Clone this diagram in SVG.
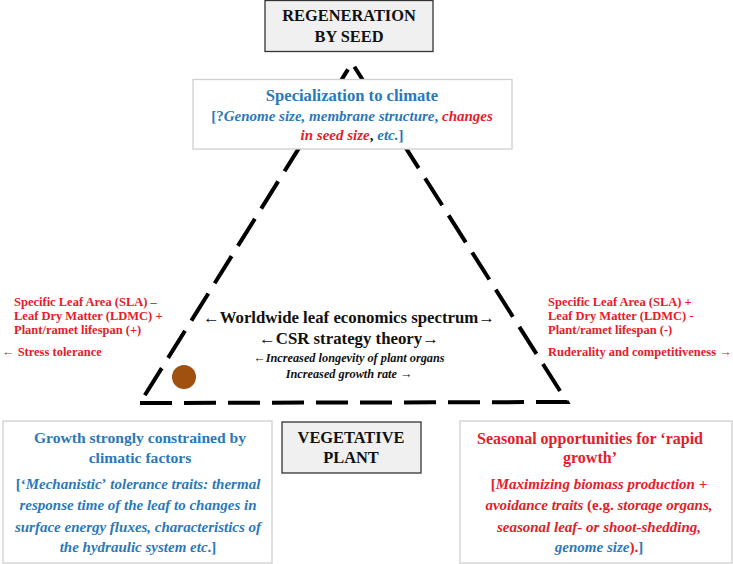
<svg xmlns="http://www.w3.org/2000/svg" width="733" height="564" viewBox="0 0 733 564">
<style>
text{font-family:"Liberation Serif","Times New Roman",serif;font-weight:bold;}
.c{text-anchor:middle;}
.r{fill:#e3202a;}
.b{fill:#2b78b8;}
.k{fill:#111;}
.i{font-style:italic;}
.gbox{fill:#f0f0f0;stroke:#333;stroke-width:1.3;}
.wbox{fill:#fff;stroke:#d0d0d0;stroke-width:1.3;}
.t16{font-size:16.4px;}
.h{font-size:16.6px;}
.t15{font-size:15px;}
.t12{font-size:12.5px;}
</style>
<rect width="733" height="564" fill="#fff"/>
<g id="connectors">
<path d="M140,403 L567,402 L352,63 Z" fill="none" stroke="#000" stroke-width="4" stroke-dasharray="32 12" stroke-linejoin="miter"/>
</g>
<g id="regeneration">
<rect class="gbox" x="265" y="0.5" width="168" height="51"/>
<text class="c k t16" x="349" y="21">REGENERATION</text>
<text class="c k t16" x="349" y="42">BY SEED</text>
</g>
<g id="specialization">
<rect class="wbox" x="193" y="79.5" width="319" height="69.5"/>
<text class="c b h" x="352" y="101">Specialization to climate</text>
<text class="c t15" x="352" y="121"><tspan class="b">[?</tspan><tspan class="b i">Genome size, membrane structure</tspan><tspan class="b">, </tspan><tspan class="r i">changes</tspan></text>
<text class="c t15" x="352" y="140"><tspan class="r i">in seed size</tspan><tspan class="k">, </tspan><tspan class="b i">etc.</tspan><tspan class="b">]</tspan></text>
</g>
<g id="left-traits">
<text class="r t12" x="14" y="306">Specific Leaf Area (SLA) –</text>
<text class="r t12" x="14" y="320">Leaf Dry Matter (LDMC) +</text>
<text class="r t12" x="14" y="334">Plant/ramet lifespan (+)</text>
<text class="r t12" x="2" y="356">← Stress tolerance</text>
</g>
<g id="right-traits">
<text class="r t12" x="548" y="306">Specific Leaf Area (SLA) +</text>
<text class="r t12" x="548" y="320">Leaf Dry Matter (LDMC) -</text>
<text class="r t12" x="548" y="334">Plant/ramet lifespan (-)</text>
<text class="r t12" x="548" y="356">Ruderality and competitiveness →</text>
</g>
<g id="center">
<text class="c k" style="font-size:16.8px" x="349" y="323">←Worldwide leaf economics spectrum→</text>
<text class="c k" style="font-size:16.8px" x="349" y="344">←CSR strategy theory→</text>
<text class="c k i" style="font-size:12.3px" x="349" y="362">←Increased longevity of plant organs</text>
<text class="c k i" style="font-size:12.3px" x="349" y="378">Increased growth rate →</text>
</g>
<g id="dot">
<circle cx="184" cy="377" r="12" fill="#a0500f"/>
</g>
<g id="growth-constrained">
<rect class="wbox" x="3" y="421" width="269" height="142"/>
<text class="c b" style="font-size:15.6px" x="140" y="443">Growth strongly constrained by</text>
<text class="c b" style="font-size:15.6px" x="140" y="463">climatic factors</text>
<text class="c b t15 i" x="138" y="489"><tspan font-style="normal">[‘</tspan>Mechanistic<tspan font-style="normal">’</tspan> tolerance traits: thermal</text>
<text class="c b t15 i" x="138" y="510">response time of the leaf to changes in</text>
<text class="c b t15 i" x="138" y="532">surface energy fluxes, characteristics of</text>
<text class="c b t15 i" x="138" y="552">the hydraulic system etc<tspan font-style="normal">.]</tspan></text>
</g>
<g id="vegetative">
<rect class="gbox" x="282" y="422" width="139" height="51"/>
<text class="c k t16" x="351" y="443">VEGETATIVE</text>
<text class="c k t16" x="351" y="463">PLANT</text>
</g>
<g id="seasonal">
<rect class="wbox" x="460" y="421" width="272" height="142"/>
<text class="c r" style="font-size:16px" x="590" y="444">Seasonal opportunities for ‘rapid</text>
<text class="c r" style="font-size:16px" x="590" y="463">growth’</text>
<text class="c r t15" x="599" y="489">[<tspan class="i">Maximizing biomass production +</tspan></text>
<text class="c r t15" x="599" y="510"><tspan class="i">avoidance traits</tspan> (e.g. <tspan class="i">storage organs,</tspan></text>
<text class="c r t15 i" x="599" y="532">seasonal leaf- or shoot-shedding,</text>
<text class="c t15" x="599" y="552"><tspan class="b i">genome size</tspan><tspan class="r">).</tspan><tspan class="b">]</tspan></text>
</g>
</svg>
